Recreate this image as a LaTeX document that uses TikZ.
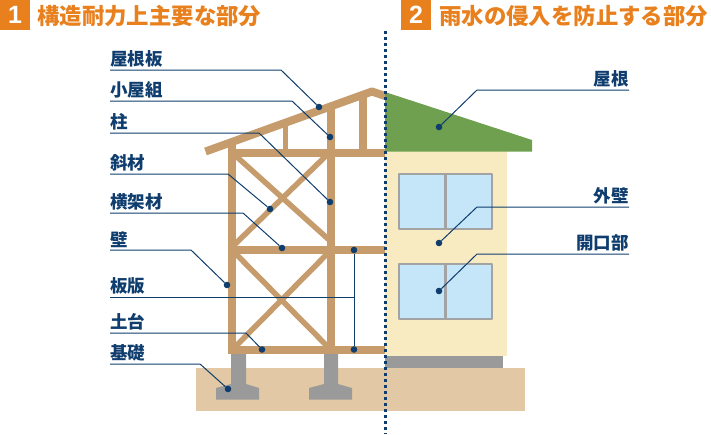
\documentclass[tikz,border=0pt]{standalone}
\usepackage{fontspec}
\setmainfont{Liberation Sans}
\newfontfamily\jpfont{Noto Sans CJK JP}
\newfontfamily\jpheavy{Noto Sans CJK JP Black}
\definecolor{orangeHead}{HTML}{E8801E}
\definecolor{navyLine}{HTML}{0F3D6E}
\definecolor{woodFrame}{HTML}{C69C6D}
\definecolor{soilBand}{HTML}{E2C8A4}
\definecolor{concrete}{HTML}{9A9A9A}
\definecolor{roofGreen}{HTML}{6FA04F}
\definecolor{wallCream}{HTML}{F8EBC2}
\definecolor{glassBlue}{HTML}{C5E5F8}
\definecolor{sashGrey}{HTML}{A3A3A3}
\tikzset{
  headbox/.style={fill=orangeHead,text=white,minimum size=30pt,inner sep=0pt,font=\bfseries\fontsize{25}{25}\selectfont},
  headtext/.style={anchor=west,inner sep=0pt,text=orangeHead,font=\jpheavy\fontsize{22.4}{24}\selectfont},
  partleft/.style={anchor=south west,inner xsep=0pt,inner ysep=2.5pt,text=navyLine,font=\jpfont\bfseries\fontsize{17.5}{18}\selectfont},
  partright/.style={partleft,anchor=south east},
  dotmark/.style={circle,fill=navyLine,minimum size=6.6pt,inner sep=0pt},
  leadline/.style={navyLine,line width=1pt,line join=round},
  post/.style={woodFrame,line width=8pt},
  brace/.style={woodFrame,line width=5.5pt},
  windowpane/.style={draw=sashGrey,fill=glassBlue,line width=2.4pt}
}
\begin{document}
\begin{tikzpicture}[x=1pt,y=-1pt,line join=round]
\useasboundingbox (0,0) rectangle (711,434);
\fill[soilBand] (196,368) rectangle (525,411);
\fill[concrete] (231,353)--(246,353)--(246,384)--(259,388)--(259,399.5)--(216,399.5)--(216,388)--(231,384)--cycle;
\fill[concrete] (324,353)--(338,353)--(338,384)--(352,388)--(352,399.5)--(309,399.5)--(309,388)--(324,384)--cycle;
\fill[concrete] (385,356) rectangle (503,368);
\draw[brace] (232,152.5)--(331,241.6) (232,247)--(331,151);
\draw[brace] (232,250)--(331,350) (232,350)--(331,250);
\draw[post] (232,142)--(232,354);
\draw[post] (331,106)--(331,354);
\draw[post] (363,95)--(363,153);
\draw[woodFrame,line width=5pt] (285.5,122)--(285.5,153);
\draw[post] (228,153)--(385,153);
\draw[post] (228,250)--(385,250);
\draw[post] (228,350)--(385,350);
\draw[post] (205.5,151.5)--(372,91.5)--(385,96);
\fill[wallCream] (385,151) rectangle (507,356);
\fill[roofGreen] (385,92)--(532,140)--(532,151.5)--(385,151.5)--cycle;
\draw[windowpane] (399,174) rectangle (492,229);
\draw[windowpane] (399,264) rectangle (492,319);
\draw[sashGrey,line width=2.4pt] (445.5,174)--(445.5,229) (445.5,264)--(445.5,319);
\draw[navyLine,line width=3pt,dash pattern=on 3pt off 3pt] (385,31)--(385,434);
\node[headbox] (numA) at (15,15) {1};
\node[headbox] (numB) at (416,15) {2};
\node[headtext] (headA) at (37,16) {構造耐力上主要な部分};
\node[headtext] (headB) at (439,16) {雨水の侵入を防止する部分};
\node[partleft] (yaneita)  at (110,70)  {屋根板};
\node[partleft] (koyagumi) at (110,101) {小屋組};
\node[partleft] (hashira)  at (110,133) {柱};
\node[partleft] (shazai)   at (110,174) {斜材};
\node[partleft] (oukazai)  at (110,213) {横架材};
\node[partleft] (kabe)     at (110,250) {壁};
\node[partleft] (itaban)   at (110,297) {板版};
\node[partleft] (dodai)    at (110,333) {土台};
\node[partleft] (kiso)     at (110,364) {基礎};
\node[partright] (yane)    at (629,90)  {屋根};
\node[partright] (gaiheki) at (629,207) {外壁};
\node[partright] (kaikou)  at (629,254) {開口部};
\node[dotmark] (dotYaneita)  at (319,107) {};
\node[dotmark] (dotKoyagumi) at (330,137) {};
\node[dotmark] (dotHashira)  at (330,202) {};
\node[dotmark] (dotShazai)   at (270,209) {};
\node[dotmark] (dotOukazai)  at (282,248) {};
\node[dotmark] (dotKabe)     at (227,285) {};
\node[dotmark] (dotBanTop)   at (354,250) {};
\node[dotmark] (dotBanBot)   at (354,349.5) {};
\node[dotmark] (dotDodai)    at (262,349.5) {};
\node[dotmark] (dotKiso)     at (228,389) {};
\node[dotmark] (dotYane)     at (439,127) {};
\node[dotmark] (dotGaiheki)  at (439,243) {};
\node[dotmark] (dotKaikou)   at (439,291) {};
\coordinate (bendYaneita)  at (281,70);
\coordinate (bendKoyagumi) at (292,101);
\coordinate (bendHashira)  at (259,133);
\coordinate (bendShazai)   at (228,174);
\coordinate (bendOukazai)  at (243,213);
\coordinate (bendKabe)     at (191,250);
\coordinate (bendBan)      at (354,297);
\coordinate (bendDodai)    at (246,333);
\coordinate (bendKiso)     at (200,364);
\coordinate (bendYane)     at (477,90);
\coordinate (bendGaiheki)  at (477,207);
\coordinate (bendKaikou)   at (477,254);
\draw[leadline] (yaneita.south west)--(bendYaneita)--(dotYaneita);
\draw[leadline] (koyagumi.south west)--(bendKoyagumi)--(dotKoyagumi);
\draw[leadline] (hashira.south west)--(bendHashira)--(dotHashira);
\draw[leadline] (shazai.south west)--(bendShazai)--(dotShazai);
\draw[leadline] (oukazai.south west)--(bendOukazai)--(dotOukazai);
\draw[leadline] (kabe.south west)--(bendKabe)--(dotKabe);
\draw[leadline] (itaban.south west)--(bendBan);
\draw[leadline] (dotBanTop)--(dotBanBot);
\draw[leadline] (dodai.south west)--(bendDodai)--(dotDodai);
\draw[leadline] (kiso.south west)--(bendKiso)--(dotKiso);
\draw[leadline] (yane.south east)--(bendYane)--(dotYane);
\draw[leadline] (gaiheki.south east)--(bendGaiheki)--(dotGaiheki);
\draw[leadline] (kaikou.south east)--(bendKaikou)--(dotKaikou);
\end{tikzpicture}
\end{document}
